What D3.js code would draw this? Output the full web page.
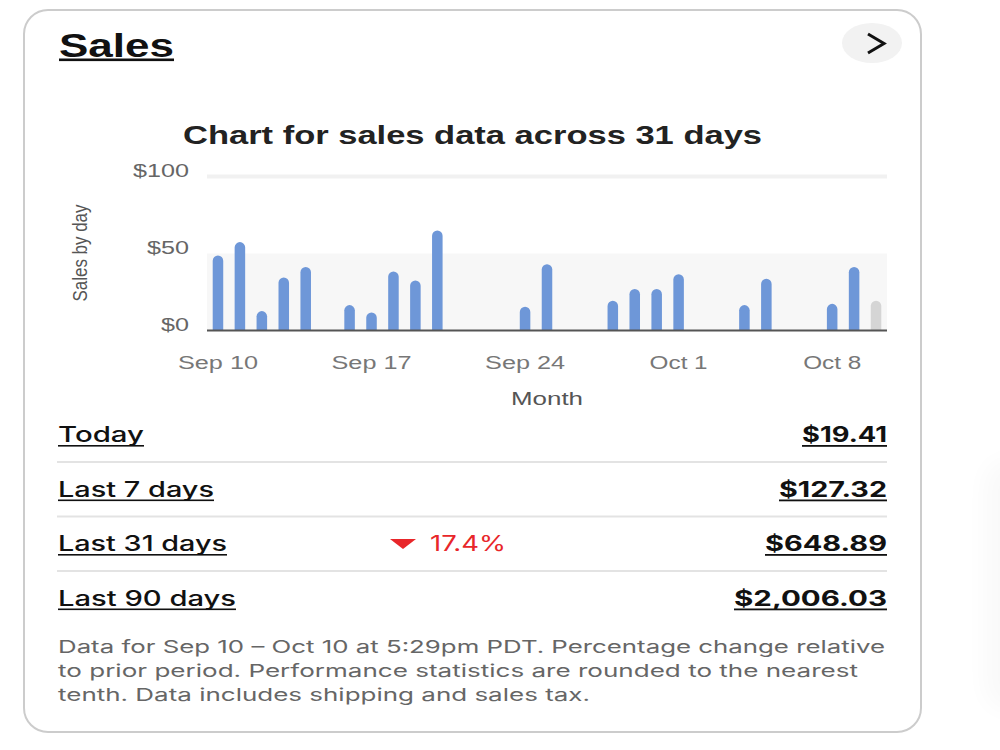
<!DOCTYPE html>
<html>
<head>
<meta charset="utf-8">
<script src="https://d3js.org/d3.v7.min.js"></script>
<style>
  body { margin: 0; background: #fff; }
  svg { display: block; }
</style>
</head>
<body>
<svg id="page" width="1000" height="750"></svg>
<script>
// One bar per day, Sep 10 - Oct 10
let days = ["Sep 10", "Sep 11", "Sep 12", "Sep 13", "Sep 14", "Sep 15", "Sep 16",
  "Sep 17", "Sep 18", "Sep 19", "Sep 20", "Sep 21", "Sep 22", "Sep 23",
  "Sep 24", "Sep 25", "Sep 26", "Sep 27", "Sep 28", "Sep 29", "Sep 30",
  "Oct 1", "Oct 2", "Oct 3", "Oct 4", "Oct 5", "Oct 6", "Oct 7",
  "Oct 8", "Oct 9", "Oct 10"];
let sales = [48.7, 57.4, 12.6, 34.4, 41.2, 0, 16.5,
  11.7, 38.3, 32.5, 64.9, 0, 0, 0,
  15.4, 43.1, 0, 0, 19.3, 26.9, 26.9,
  36.6, 0, 0, 16.5, 33.6, 0, 0,
  17.3, 41.2, 19.41];
let xTicks = ["Sep 10", "Sep 17", "Sep 24", "Oct 1", "Oct 8"];
let yTicks = [0, 50, 100];

let periods = ["Today", "Last 7 days", "Last 31 days", "Last 90 days"];
let totals = ["$19.41", "$127.32", "$648.89", "$2,006.03"];
let changes = [null, null, "17.4%", null];

let footnote = [
  "Data for Sep 10 \u2013 Oct 10 at 5:29pm PDT. Percentage change relative",
  "to prior period. Performance statistics are rounded to the nearest",
  "tenth. Data includes shipping and sales tax."
];

let svg = d3.select("#page");
let helv = "'Liberation Sans', Arial, sans-serif";
let geo = "Inter, 'Open Sans', sans-serif";

/**
 * Card frame, title and the round arrow button
 */
function drawCard() {
  // faint shadow of the neighbouring card on the right
  let defs = svg.append("defs");
  defs.append("filter").attr("id", "blur")
    .attr("x", "-50%").attr("y", "-50%").attr("width", "200%").attr("height", "200%")
    .append("feGaussianBlur").attr("stdDeviation", 12);
  svg.append("rect")
    .attr("x", 985).attr("y", 460).attr("width", 50).attr("height", 250)
    .attr("rx", 24)
    .attr("fill", "#000").attr("opacity", 0.025)
    .attr("filter", "url(#blur)");

  svg.append("rect")
    .attr("x", 24).attr("y", 10)
    .attr("width", 897).attr("height", 722)
    .attr("rx", 24)
    .attr("fill", "#fff")
    .attr("stroke", "#cccccc")
    .attr("stroke-width", 2);

  svg.append("text")
    .attr("x", 59).attr("y", 57)
    .attr("font-family", helv).attr("font-weight", "bold")
    .attr("font-size", 34).attr("fill", "#111")
    .attr("textLength", 115).attr("lengthAdjust", "spacingAndGlyphs")
    .text("Sales");
  svg.append("rect")
    .attr("x", 59).attr("y", 58.5).attr("width", 115).attr("height", 2.6)
    .attr("fill", "#111");

  svg.append("ellipse")
    .attr("cx", 872).attr("cy", 43).attr("rx", 30).attr("ry", 20)
    .attr("fill", "#f2f2f2");
  svg.append("path")
    .attr("d", "M868,34 L884,43.5 L868,53")
    .attr("fill", "none").attr("stroke", "#111")
    .attr("stroke-width", 3);
}

/**
 * The bar chart of daily sales
 */
function drawChart() {
  let x = d3.scaleBand()
    .domain(days)
    .range([207, 887])
    .paddingInner(0.52)
    .paddingOuter(0.26);
  let y = d3.scaleLinear()
    .domain([0, 100])
    .range([330.5, 176.5]);

  svg.append("text")
    .attr("x", 183).attr("y", 144)
    .attr("font-family", helv).attr("font-weight", "bold")
    .attr("font-size", 25).attr("fill", "#222")
    .attr("textLength", 579).attr("lengthAdjust", "spacingAndGlyphs")
    .text("Chart for sales data across 31 days");

  // shaded band below $50 and light gridline at $100
  svg.append("rect")
    .attr("x", 207).attr("y", y(50))
    .attr("width", 680).attr("height", y(0) - y(50))
    .attr("fill", "#f7f7f7");
  svg.append("line")
    .attr("x1", 207).attr("x2", 887)
    .attr("y1", y(100)).attr("y2", y(100))
    .attr("stroke", "#f1f1f1").attr("stroke-width", 4);

  let yAxis = svg.append("g")
    .attr("transform", "translate(207,0)")
    .call(d3.axisLeft(y).tickValues(yTicks).tickSize(0).tickPadding(18)
      .tickFormat(d => "$" + d));
  yAxis.select(".domain").remove();
  yAxis.selectAll("text")
    .attr("dy", "-0.02em")
    .attr("font-family", helv).attr("font-size", 18).attr("fill", "#666")
    .attr("textLength", d => d === 100 ? 56 : d === 50 ? 42 : 28)
    .attr("lengthAdjust", "spacingAndGlyphs");

  let bw = x.bandwidth();
  let r = bw / 2;
  svg.append("g")
    .selectAll("path")
    .data(sales.map((v, i) => ({ day: days[i], v: v, i: i })).filter(d => d.v > 0))
    .enter()
    .append("path")
    .attr("fill", d => d.i === days.length - 1 ? "#d5d5d5" : "#6e97d8")
    .attr("d", function(d) {
      let x0 = x(d.day), y0 = y(0), y1 = y(d.v);
      return "M" + x0 + "," + y0 +
        "V" + (y1 + r) +
        "A" + r + "," + r + " 0 0 1 " + (x0 + bw) + "," + (y1 + r) +
        "V" + y0 + "Z";
    });

  svg.append("line")
    .attr("x1", 207).attr("x2", 887)
    .attr("y1", y(0)).attr("y2", y(0))
    .attr("stroke", "#555").attr("stroke-width", 2);

  let xAxis = svg.append("g")
    .attr("transform", "translate(0," + y(0) + ")")
    .call(d3.axisBottom(x).tickValues(xTicks).tickSize(0).tickPadding(26));
  xAxis.select(".domain").remove();
  xAxis.selectAll("text")
    .attr("font-family", helv).attr("font-size", 18).attr("fill", "#777")
    .attr("textLength", d => d.startsWith("Sep") ? 80 : 58)
    .attr("lengthAdjust", "spacingAndGlyphs");

  svg.append("text")
    .attr("x", 547).attr("y", 405)
    .attr("text-anchor", "middle")
    .attr("font-family", helv).attr("font-size", 18).attr("fill", "#555")
    .attr("textLength", 72).attr("lengthAdjust", "spacingAndGlyphs")
    .text("Month");

  svg.append("text")
    .attr("transform", "translate(87,253) rotate(-90)")
    .attr("text-anchor", "middle")
    .attr("font-family", helv).attr("font-size", 21).attr("fill", "#555")
    .attr("textLength", 97).attr("lengthAdjust", "spacingAndGlyphs")
    .text("Sales by day");
}

/**
 * Summary rows and the footnote
 */
function drawTable() {
  let rowY = d3.scaleLinear().domain([0, 1]).range([442, 496.5]);
  let labelW = [86, 156, 169, 178];
  let valueW = [85, 108, 122, 153];

  let rows = svg.append("g")
    .selectAll("g")
    .data(periods)
    .enter()
    .append("g")
    .attr("transform", (d, i) => "translate(0," + rowY(i) + ")");

  rows.append("text")
    .attr("x", 58)
    .attr("font-family", geo).attr("font-weight", 500)
    .attr("font-size", 21).attr("fill", "#111")
    .attr("textLength", (d, i) => labelW[i]).attr("lengthAdjust", "spacingAndGlyphs")
    .text(d => d);
  rows.append("rect")
    .attr("x", 58).attr("y", 3).attr("height", 1.6)
    .attr("width", (d, i) => labelW[i])
    .attr("fill", "#111");

  rows.append("text")
    .attr("x", 887).attr("text-anchor", "end")
    .attr("font-family", geo).attr("font-weight", "bold")
    .attr("font-size", 21).attr("fill", "#111")
    .attr("textLength", (d, i) => valueW[i]).attr("lengthAdjust", "spacingAndGlyphs")
    .text((d, i) => totals[i]);
  rows.append("rect")
    .attr("x", (d, i) => 887 - valueW[i]).attr("y", 3).attr("height", 1.8)
    .attr("width", (d, i) => valueW[i])
    .attr("fill", "#111");

  rows.filter((d, i) => i < periods.length - 1)
    .append("line")
    .attr("x1", 57).attr("x2", 887)
    .attr("y1", 20).attr("y2", 20)
    .attr("stroke", "#e3e3e3").attr("stroke-width", 2);

  let change = rows.filter((d, i) => changes[i] !== null);
  change.append("path")
    .attr("d", "M390,-12 L416,-12 L403,-2 Z")
    .attr("fill", "#e8262a");
  change.append("text")
    .attr("x", 430)
    .attr("font-family", geo).attr("font-size", 21).attr("fill", "#e8262a")
    .attr("textLength", 76).attr("lengthAdjust", "spacingAndGlyphs")
    .text((d, i) => changes[periods.indexOf(d)]);

  let noteW = [827, 800, 532];
  svg.append("g")
    .selectAll("text")
    .data(footnote)
    .enter()
    .append("text")
    .attr("x", 58)
    .attr("y", (d, i) => 653 + i * 24)
    .attr("font-family", geo).attr("font-size", 17.5).attr("fill", "#666")
    .attr("textLength", (d, i) => noteW[i]).attr("lengthAdjust", "spacingAndGlyphs")
    .text(d => d);
}

drawCard();
drawChart();
drawTable();
</script>
</body>
</html>
